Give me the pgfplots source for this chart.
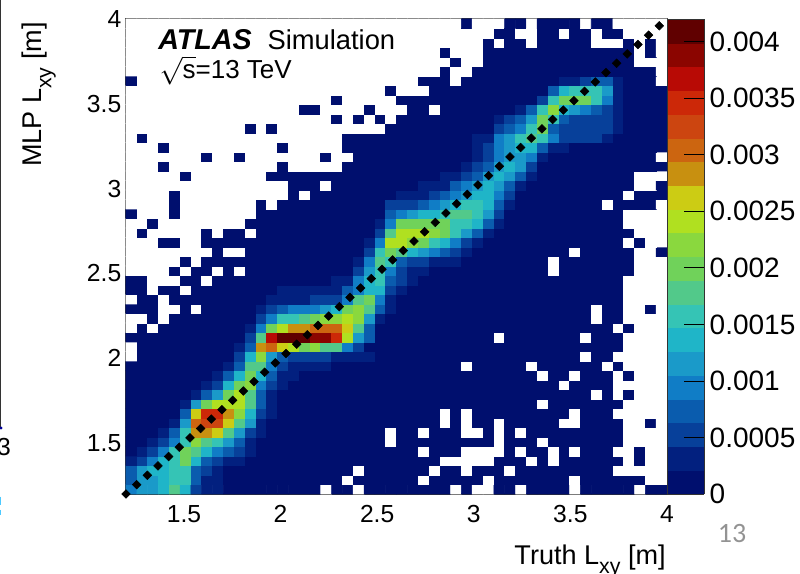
\documentclass[border=0pt]{standalone}
\usepackage{fontspec}
\setmainfont{Liberation Sans}
\newfontfamily\slidefont{Carlito}
\usepackage{pgfplots}
\pgfplotsset{compat=1.18}
\definecolor{framec}{HTML}{333333}
\newcommand{\sub}[1]{\raisebox{-7pt}{\fontsize{16}{17}\selectfont #1}}
\begin{document}
\begin{tikzpicture}
\useasboundingbox (-94.5pt,-60pt) rectangle (505.5pt,370.5pt);
\begin{axis}[
  at={(0,0)}, anchor=south west, scale only axis,
  width=405.75pt, height=356.25pt,
  xmin=1.2, xmax=4, ymin=1.2, ymax=4,
  xtick={1.5,2,2.5,3,3.5,4}, ytick={1.5,2,2.5,3,3.5,4},
  minor x tick num=4, minor y tick num=4,
  xticklabels={1.5,2,2.5,3,3.5,4},
  yticklabels={1.5,2,2.5,3,3.5,4},
  tick align=inside, ticks=both,
  axis line style={framec,line width=0.9pt},
  xtick style={framec,line width=0.6pt,/pgfplots/major tick length=8.25pt,/pgfplots/minor tick length=4pt},
  ytick style={framec,line width=0.6pt,/pgfplots/major tick length=13.5pt,/pgfplots/minor tick length=6.75pt},
  tick label style={font=\fontsize{18.5}{20}\selectfont,/pgf/number format/assume math mode=true},
  xticklabel shift=5pt,
  clip=false,
  xlabel={Truth L\sub{xy} [m]},
  ylabel={MLP L\sub{xy} [m]},
  every axis x label/.style={at={(axis description cs:0.998,-0.1474)},anchor=base east,inner sep=0pt,font=\fontsize{20.3}{22}\selectfont},
  every axis y label/.style={at={(axis description cs:-0.1553,0.9937)},rotate=90,anchor=base east,inner sep=0pt,font=\fontsize{20.3}{22}\selectfont},
  colormap access=piecewise constant,
  colormap={atlas}{
    rgb255=(255,255,255)
    rgb255=(0,15,110) rgb255=(2,32,127) rgb255=(7,64,154) rgb255=(10,92,174)
    rgb255=(16,125,198) rgb255=(26,154,201) rgb255=(31,181,200) rgb255=(53,196,181)
    rgb255=(82,201,138) rgb255=(112,210,90) rgb255=(138,216,62) rgb255=(176,224,32)
    rgb255=(204,204,20) rgb255=(200,144,16) rgb255=(204,101,16) rgb255=(204,69,16)
    rgb255=(204,40,8) rgb255=(184,10,5) rgb255=(139,5,0) rgb255=(96,0,0)},
  point meta min=-0.00021, point meta max=0.0042,
  colorbar, colorbar sampled,
  colorbar style={
    at={(1,0)}, anchor=south west, xshift=2.25pt,
    width=27.75pt, height=356.25pt, samples=22,
    ymin=0, ymax=0.0042, clip=true, scaled y ticks=false,
    ytick={0,0.0005,0.001,0.0015,0.002,0.0025,0.003,0.0035,0.004},
    yticklabels={0,0.0005,0.001,0.0015,0.002,0.0025,0.003,0.0035,0.004},
    ytick pos=right, yticklabel pos=right,
    tick align=inside, major tick length=15pt,
    ytick style={black,line width=0.6pt,/pgfplots/major tick length=15pt},
    axis line style={framec,line width=0.4pt},
    yticklabel style={font=\fontsize{21}{23}\selectfont,xshift=0.75pt},
  },
]
% cell values: colour level 0-19 of a bin (one level = 0.00021), -1 = empty bin; rows run bottom to top, 50 x 50 bins
\addplot[matrix plot*, mesh/cols=50, point meta=explicit]
  table[row sep=\\, header=false,
        x expr={1.228+0.056*mod(\coordindex,50)},
        y expr={1.228+0.056*floor((\coordindex+0.5)/50)},
        meta expr={(\thisrowno{0}+0.5)*0.00021}] {
4\\5\\5\\6\\8\\6\\2\\1\\1\\0\\0\\0\\0\\0\\0\\0\\0\\0\\-1\\0\\0\\-1\\0\\0\\0\\0\\0\\0\\0\\0\\-1\\0\\-1\\-1\\0\\0\\-1\\0\\0\\0\\0\\-1\\0\\0\\0\\0\\0\\-1\\0\\0\\
3\\5\\5\\6\\7\\7\\3\\1\\1\\0\\0\\0\\0\\0\\0\\0\\0\\0\\0\\0\\-1\\0\\0\\0\\0\\0\\0\\-1\\0\\0\\0\\0\\0\\-1\\0\\0\\0\\0\\0\\0\\0\\-1\\0\\0\\0\\0\\0\\0\\-1\\-1\\
3\\5\\6\\6\\7\\7\\3\\2\\1\\0\\0\\0\\0\\0\\0\\0\\0\\0\\0\\0\\0\\-1\\0\\0\\0\\0\\0\\0\\-1\\0\\0\\-1\\0\\0\\0\\-1\\0\\0\\0\\0\\0\\0\\0\\0\\0\\-1\\-1\\-1\\-1\\-1\\
1\\2\\4\\6\\7\\9\\6\\3\\2\\1\\1\\0\\0\\0\\0\\0\\0\\0\\0\\0\\0\\0\\0\\0\\0\\0\\0\\0\\0\\-1\\-1\\-1\\-1\\-1\\0\\0\\0\\-1\\0\\-1\\0\\0\\0\\0\\0\\0\\-1\\0\\-1\\-1\\
0\\1\\2\\4\\7\\9\\8\\6\\4\\3\\2\\1\\0\\0\\0\\0\\0\\0\\0\\0\\0\\0\\0\\0\\0\\0\\0\\-1\\0\\0\\0\\-1\\-1\\-1\\-1\\0\\-1\\0\\0\\-1\\0\\-1\\0\\0\\0\\-1\\-1\\0\\-1\\-1\\
0\\0\\1\\2\\4\\7\\10\\8\\7\\5\\3\\1\\0\\0\\0\\0\\0\\0\\0\\0\\0\\0\\0\\0\\-1\\0\\0\\0\\0\\0\\0\\0\\0\\0\\-1\\0\\0\\0\\-1\\0\\0\\0\\0\\0\\0\\0\\-1\\-1\\-1\\-1\\
0\\0\\0\\1\\3\\7\\13\\13\\12\\8\\5\\2\\1\\0\\0\\0\\0\\0\\0\\0\\0\\0\\0\\0\\-1\\0\\0\\-1\\0\\0\\0\\-1\\-1\\0\\-1\\0\\-1\\0\\0\\0\\0\\0\\0\\0\\0\\0\\-1\\-1\\-1\\-1\\
0\\0\\0\\0\\1\\5\\14\\15\\15\\12\\8\\5\\1\\0\\0\\0\\0\\0\\0\\0\\0\\0\\0\\0\\0\\0\\0\\0\\0\\-1\\0\\-1\\0\\0\\-1\\0\\0\\0\\0\\0\\-1\\-1\\0\\0\\0\\0\\-1\\-1\\0\\-1\\
0\\0\\0\\0\\0\\3\\12\\16\\16\\13\\10\\6\\2\\1\\0\\0\\0\\0\\0\\0\\0\\0\\0\\0\\0\\0\\0\\0\\0\\-1\\0\\-1\\0\\0\\0\\0\\0\\0\\0\\0\\0\\-1\\0\\0\\0\\-1\\-1\\-1\\-1\\-1\\
0\\0\\0\\0\\0\\1\\5\\9\\11\\11\\11\\8\\3\\1\\0\\0\\0\\0\\0\\0\\0\\0\\0\\0\\0\\0\\0\\0\\0\\0\\0\\0\\0\\0\\0\\0\\0\\0\\-1\\0\\0\\0\\0\\0\\0\\0\\-1\\-1\\-1\\-1\\
0\\0\\0\\0\\0\\0\\1\\3\\5\\9\\11\\8\\3\\1\\0\\0\\0\\0\\0\\0\\0\\0\\0\\0\\0\\0\\0\\0\\0\\0\\0\\0\\0\\0\\0\\0\\0\\0\\0\\0\\0\\0\\0\\-1\\0\\-1\\0\\-1\\-1\\-1\\
0\\0\\0\\0\\0\\0\\0\\1\\2\\6\\9\\10\\4\\2\\1\\0\\0\\0\\0\\0\\0\\0\\0\\0\\0\\0\\0\\0\\0\\0\\0\\0\\0\\0\\0\\0\\0\\0\\0\\0\\-1\\0\\0\\0\\0\\-1\\-1\\-1\\-1\\-1\\
0\\0\\0\\0\\0\\0\\0\\0\\1\\3\\6\\9\\6\\3\\1\\1\\0\\0\\0\\0\\0\\0\\0\\0\\0\\0\\0\\0\\0\\0\\0\\0\\0\\0\\0\\0\\0\\0\\-1\\0\\0\\-1\\0\\0\\0\\-1\\0\\-1\\-1\\-1\\
0\\0\\0\\0\\0\\0\\0\\0\\0\\1\\3\\8\\8\\4\\2\\1\\1\\1\\1\\0\\0\\0\\0\\0\\0\\0\\0\\0\\0\\0\\0\\-1\\0\\0\\0\\0\\0\\-1\\0\\0\\0\\0\\0\\0\\-1\\0\\-1\\-1\\-1\\-1\\
-1\\0\\0\\0\\0\\0\\0\\0\\0\\0\\2\\6\\10\\5\\3\\2\\2\\2\\2\\1\\1\\1\\1\\0\\0\\0\\0\\0\\0\\0\\0\\0\\0\\0\\0\\0\\0\\0\\0\\0\\0\\0\\-1\\0\\0\\-1\\-1\\-1\\-1\\-1\\
-1\\0\\0\\0\\0\\0\\0\\0\\0\\0\\1\\3\\13\\14\\12\\11\\9\\10\\8\\8\\4\\2\\0\\0\\0\\0\\0\\0\\0\\0\\0\\0\\0\\0\\0\\0\\0\\0\\0\\0\\0\\0\\0\\0\\0\\0\\-1\\-1\\-1\\-1\\
0\\0\\0\\0\\0\\0\\0\\0\\0\\0\\0\\2\\8\\17\\19\\19\\19\\18\\18\\16\\11\\5\\3\\0\\0\\0\\0\\0\\0\\0\\0\\0\\0\\0\\-1\\0\\0\\0\\0\\0\\0\\0\\-1\\0\\0\\0\\-1\\-1\\-1\\-1\\
-1\\0\\-1\\0\\0\\0\\0\\0\\0\\0\\0\\1\\4\\9\\11\\13\\13\\14\\14\\14\\12\\8\\3\\0\\0\\0\\0\\0\\0\\0\\0\\0\\0\\0\\0\\0\\0\\0\\0\\0\\0\\0\\0\\0\\0\\-1\\0\\-1\\-1\\-1\\
-1\\-1\\0\\-1\\0\\0\\0\\0\\0\\0\\0\\0\\2\\4\\7\\7\\8\\9\\10\\10\\11\\10\\5\\1\\0\\0\\0\\0\\0\\0\\0\\0\\0\\0\\0\\0\\0\\0\\0\\0\\0\\0\\0\\-1\\0\\0\\-1\\-1\\-1\\-1\\
0\\0\\0\\-1\\-1\\0\\-1\\0\\0\\0\\0\\0\\1\\2\\3\\4\\4\\4\\5\\6\\9\\10\\8\\3\\1\\0\\0\\0\\0\\0\\0\\0\\0\\0\\0\\0\\0\\0\\0\\0\\0\\0\\0\\-1\\0\\0\\-1\\-1\\0\\-1\\
-1\\0\\0\\-1\\0\\0\\0\\0\\0\\0\\0\\0\\0\\1\\1\\1\\1\\2\\2\\2\\4\\8\\9\\4\\1\\0\\0\\0\\0\\0\\0\\0\\0\\0\\0\\0\\0\\0\\0\\0\\0\\0\\0\\0\\0\\0\\-1\\-1\\-1\\-1\\
0\\0\\-1\\0\\0\\-1\\0\\0\\0\\0\\0\\0\\0\\0\\1\\1\\1\\1\\1\\1\\3\\4\\6\\6\\2\\1\\0\\0\\0\\0\\0\\0\\0\\0\\0\\0\\0\\0\\0\\0\\0\\0\\0\\0\\0\\0\\-1\\-1\\-1\\-1\\
0\\0\\-1\\-1\\-1\\0\\0\\-1\\0\\0\\0\\0\\0\\0\\0\\0\\0\\0\\0\\1\\1\\4\\6\\7\\3\\2\\1\\0\\0\\0\\0\\0\\0\\0\\0\\0\\0\\0\\0\\0\\0\\0\\0\\0\\0\\0\\-1\\-1\\-1\\-1\\
-1\\-1\\-1\\-1\\0\\-1\\0\\0\\-1\\0\\-1\\0\\0\\0\\0\\0\\0\\0\\0\\0\\0\\2\\5\\7\\4\\2\\1\\1\\0\\0\\0\\0\\0\\0\\0\\0\\0\\0\\0\\-1\\0\\0\\0\\0\\0\\0\\0\\-1\\-1\\-1\\
-1\\-1\\-1\\-1\\-1\\0\\-1\\0\\0\\0\\0\\0\\0\\0\\0\\0\\0\\0\\0\\0\\0\\1\\4\\8\\7\\3\\2\\2\\1\\1\\1\\0\\0\\0\\0\\0\\0\\0\\0\\-1\\0\\0\\0\\0\\0\\0\\0\\-1\\-1\\-1\\
-1\\-1\\-1\\-1\\-1\\-1\\-1\\-1\\0\\-1\\-1\\0\\0\\0\\0\\0\\0\\0\\0\\0\\0\\0\\2\\7\\9\\8\\6\\5\\4\\3\\2\\1\\0\\0\\0\\0\\0\\0\\0\\0\\0\\-1\\0\\0\\0\\0\\0\\-1\\-1\\0\\
-1\\-1\\-1\\0\\0\\-1\\-1\\0\\0\\0\\0\\0\\0\\0\\0\\0\\0\\0\\0\\0\\0\\0\\1\\4\\11\\11\\10\\9\\7\\6\\4\\2\\1\\0\\0\\0\\0\\0\\0\\0\\0\\0\\0\\0\\0\\0\\-1\\0\\-1\\-1\\
-1\\0\\-1\\-1\\-1\\-1\\-1\\0\\-1\\0\\0\\-1\\0\\0\\0\\0\\0\\0\\0\\0\\0\\0\\0\\2\\8\\11\\11\\11\\10\\9\\7\\5\\3\\1\\0\\0\\0\\0\\0\\0\\0\\0\\0\\0\\0\\0\\0\\-1\\-1\\-1\\
-1\\-1\\0\\-1\\-1\\-1\\-1\\-1\\-1\\-1\\-1\\0\\0\\0\\0\\0\\0\\0\\0\\0\\0\\0\\0\\1\\4\\9\\9\\9\\9\\9\\7\\7\\6\\3\\1\\0\\0\\0\\0\\0\\0\\0\\0\\0\\0\\0\\-1\\-1\\-1\\-1\\
0\\-1\\-1\\-1\\0\\-1\\-1\\-1\\-1\\-1\\-1\\-1\\0\\0\\0\\0\\0\\0\\0\\0\\0\\0\\0\\0\\3\\4\\5\\6\\6\\7\\8\\8\\7\\5\\2\\0\\0\\0\\0\\0\\0\\0\\0\\0\\0\\0\\-1\\-1\\-1\\-1\\
-1\\-1\\-1\\-1\\0\\-1\\-1\\-1\\-1\\-1\\-1\\-1\\0\\-1\\0\\0\\0\\0\\0\\0\\0\\0\\0\\0\\2\\2\\2\\3\\4\\5\\6\\7\\7\\6\\3\\1\\0\\0\\0\\0\\0\\0\\0\\0\\-1\\0\\0\\0\\0\\-1\\
-1\\-1\\-1\\-1\\0\\-1\\-1\\-1\\-1\\-1\\-1\\-1\\-1\\-1\\-1\\0\\-1\\0\\0\\0\\0\\0\\0\\0\\0\\1\\1\\1\\2\\3\\4\\5\\6\\6\\4\\2\\0\\0\\0\\0\\0\\0\\0\\0\\0\\0\\-1\\0\\0\\0\\
-1\\-1\\-1\\-1\\-1\\-1\\-1\\-1\\-1\\-1\\-1\\-1\\-1\\-1\\-1\\0\\0\\0\\-1\\0\\0\\0\\0\\0\\0\\0\\0\\1\\1\\1\\3\\4\\5\\6\\5\\3\\1\\0\\0\\0\\0\\0\\0\\0\\0\\0\\0\\-1\\-1\\0\\
-1\\-1\\-1\\-1\\-1\\0\\-1\\-1\\-1\\-1\\-1\\-1\\-1\\0\\0\\0\\0\\0\\0\\0\\0\\0\\0\\0\\0\\0\\0\\0\\0\\1\\1\\2\\3\\5\\6\\5\\3\\1\\0\\0\\0\\0\\0\\0\\0\\0\\0\\-1\\-1\\-1\\
-1\\-1\\-1\\0\\-1\\-1\\-1\\-1\\-1\\-1\\-1\\-1\\-1\\-1\\0\\-1\\-1\\-1\\-1\\-1\\0\\0\\0\\0\\0\\0\\0\\0\\0\\0\\0\\1\\2\\3\\5\\6\\5\\2\\0\\0\\0\\0\\0\\0\\0\\0\\0\\0\\0\\0\\
-1\\-1\\-1\\-1\\-1\\-1\\-1\\0\\-1\\-1\\0\\-1\\-1\\-1\\-1\\-1\\-1\\-1\\0\\-1\\-1\\0\\0\\0\\0\\0\\0\\0\\0\\0\\0\\0\\1\\2\\4\\5\\5\\4\\1\\0\\0\\0\\0\\0\\0\\0\\0\\0\\0\\-1\\
-1\\-1\\-1\\0\\-1\\-1\\-1\\-1\\-1\\-1\\-1\\-1\\-1\\-1\\0\\-1\\-1\\-1\\-1\\-1\\0\\0\\0\\0\\0\\0\\0\\0\\0\\0\\0\\0\\1\\2\\4\\5\\6\\6\\3\\1\\1\\0\\0\\0\\0\\0\\0\\0\\0\\0\\
-1\\0\\-1\\-1\\-1\\-1\\-1\\-1\\-1\\-1\\-1\\-1\\-1\\-1\\-1\\-1\\-1\\-1\\-1\\-1\\0\\0\\0\\0\\0\\0\\0\\0\\0\\0\\0\\0\\1\\1\\4\\5\\7\\8\\7\\4\\2\\2\\2\\2\\1\\0\\0\\0\\0\\0\\
-1\\-1\\-1\\-1\\-1\\-1\\-1\\-1\\-1\\-1\\-1\\0\\-1\\0\\-1\\-1\\-1\\-1\\-1\\-1\\-1\\-1\\-1\\-1\\0\\0\\0\\0\\0\\0\\0\\0\\0\\0\\2\\3\\4\\7\\9\\3\\2\\2\\2\\2\\2\\1\\0\\0\\0\\0\\
-1\\-1\\-1\\-1\\-1\\-1\\-1\\-1\\-1\\-1\\-1\\-1\\-1\\-1\\-1\\-1\\-1\\-1\\-1\\0\\-1\\0\\-1\\0\\-1\\0\\0\\0\\0\\0\\0\\0\\0\\0\\1\\2\\3\\5\\9\\7\\3\\2\\2\\2\\2\\1\\0\\0\\0\\0\\
-1\\-1\\-1\\-1\\-1\\-1\\-1\\-1\\-1\\-1\\-1\\-1\\-1\\-1\\-1\\-1\\0\\0\\-1\\-1\\-1\\-1\\0\\-1\\-1\\-1\\0\\0\\-1\\0\\0\\0\\0\\0\\0\\0\\1\\3\\7\\10\\6\\5\\4\\3\\2\\1\\0\\0\\0\\0\\
-1\\-1\\-1\\-1\\-1\\-1\\-1\\-1\\-1\\-1\\-1\\-1\\-1\\-1\\-1\\-1\\-1\\-1\\-1\\0\\-1\\-1\\-1\\-1\\-1\\0\\0\\0\\0\\0\\0\\0\\0\\0\\0\\0\\0\\0\\2\\7\\9\\9\\9\\7\\4\\1\\0\\0\\0\\0\\
-1\\-1\\-1\\-1\\-1\\-1\\-1\\-1\\-1\\-1\\-1\\-1\\-1\\-1\\-1\\-1\\-1\\-1\\-1\\-1\\-1\\-1\\-1\\-1\\0\\-1\\-1\\-1\\0\\0\\0\\0\\0\\0\\0\\0\\0\\0\\0\\3\\6\\7\\7\\7\\5\\1\\0\\0\\0\\0\\
0\\-1\\-1\\-1\\-1\\-1\\-1\\-1\\-1\\-1\\-1\\-1\\-1\\-1\\-1\\-1\\-1\\-1\\-1\\-1\\-1\\-1\\-1\\-1\\-1\\-1\\-1\\0\\0\\0\\-1\\0\\0\\0\\0\\0\\0\\0\\0\\0\\1\\1\\2\\3\\3\\1\\0\\0\\0\\-1\\
-1\\-1\\-1\\-1\\-1\\-1\\-1\\-1\\-1\\-1\\-1\\-1\\-1\\-1\\-1\\-1\\-1\\-1\\-1\\-1\\-1\\-1\\-1\\-1\\-1\\-1\\-1\\-1\\-1\\0\\-1\\-1\\0\\0\\0\\0\\0\\0\\0\\0\\0\\0\\0\\0\\0\\0\\0\\0\\0\\-1\\
-1\\-1\\-1\\-1\\-1\\-1\\-1\\-1\\-1\\-1\\-1\\-1\\-1\\-1\\-1\\-1\\-1\\-1\\-1\\-1\\-1\\-1\\-1\\-1\\-1\\-1\\-1\\-1\\-1\\-1\\0\\-1\\-1\\0\\0\\0\\0\\0\\0\\0\\0\\0\\0\\0\\0\\0\\0\\-1\\-1\\-1\\
-1\\-1\\-1\\-1\\-1\\-1\\-1\\-1\\-1\\-1\\-1\\-1\\-1\\-1\\-1\\-1\\-1\\-1\\-1\\-1\\-1\\-1\\-1\\-1\\-1\\-1\\-1\\-1\\-1\\0\\-1\\-1\\-1\\0\\0\\0\\0\\0\\0\\0\\0\\0\\0\\0\\0\\0\\0\\-1\\0\\-1\\
-1\\-1\\-1\\-1\\-1\\-1\\-1\\-1\\-1\\-1\\-1\\-1\\-1\\-1\\-1\\-1\\-1\\-1\\-1\\-1\\-1\\-1\\-1\\-1\\-1\\-1\\-1\\-1\\-1\\-1\\-1\\-1\\-1\\0\\-1\\0\\0\\-1\\0\\0\\0\\0\\0\\-1\\-1\\-1\\0\\-1\\0\\-1\\
-1\\-1\\-1\\-1\\-1\\-1\\-1\\-1\\-1\\-1\\-1\\-1\\-1\\-1\\-1\\-1\\-1\\-1\\-1\\-1\\-1\\-1\\-1\\-1\\-1\\-1\\-1\\-1\\-1\\-1\\-1\\-1\\-1\\-1\\0\\0\\-1\\-1\\0\\0\\-1\\0\\0\\-1\\0\\0\\-1\\-1\\-1\\-1\\
-1\\-1\\-1\\-1\\-1\\-1\\-1\\-1\\-1\\-1\\-1\\-1\\-1\\-1\\-1\\-1\\-1\\-1\\-1\\-1\\-1\\-1\\-1\\-1\\-1\\-1\\-1\\-1\\-1\\-1\\-1\\0\\-1\\-1\\-1\\0\\0\\-1\\0\\0\\0\\0\\-1\\0\\0\\-1\\-1\\-1\\-1\\-1\\
};
\addplot[only marks, mark=square*, mark size=2.3pt, mark options={rotate=45,black}, black] coordinates {
(1.2,1.2)(1.2552,1.2552)(1.3104,1.3104)(1.3656,1.3656)(1.4208,1.4208)(1.476,1.476)(1.5312,1.5312)(1.5864,1.5864)(1.6416,1.6416)(1.6968,1.6968)
(1.752,1.752)(1.8072,1.8072)(1.8624,1.8624)(1.9176,1.9176)(1.9728,1.9728)(2.028,2.028)(2.0832,2.0832)(2.1384,2.1384)(2.1936,2.1936)(2.2488,2.2488)
(2.304,2.304)(2.3592,2.3592)(2.4144,2.4144)(2.4696,2.4696)(2.5248,2.5248)(2.58,2.58)(2.6352,2.6352)(2.6904,2.6904)(2.7456,2.7456)(2.8008,2.8008)
(2.856,2.856)(2.9112,2.9112)(2.9664,2.9664)(3.0216,3.0216)(3.0768,3.0768)(3.132,3.132)(3.1872,3.1872)(3.2424,3.2424)(3.2976,3.2976)(3.3528,3.3528)
(3.408,3.408)(3.4632,3.4632)(3.5184,3.5184)(3.5736,3.5736)(3.6288,3.6288)(3.684,3.684)(3.7392,3.7392)(3.7944,3.7944)(3.8496,3.8496)(3.9048,3.9048)(3.96,3.96)};
\end{axis}
\node[anchor=base west,inner sep=0pt,font=\fontsize{21.5}{23}\selectfont\bfseries\itshape] at (24pt,333.5pt) {ATLAS};
\node[anchor=base west,inner sep=0pt,font=\fontsize{20.5}{22}\selectfont] at (106pt,333.5pt) {Simulation};
\node[anchor=base west,inner sep=0pt,font=\fontsize{19.5}{21}\selectfont] at (25pt,311.5pt) {$\sqrt{\mbox{s}}$=13 TeV};
\node[inner sep=0pt,text=gray!85,font=\fontsize{21}{23}\slidefont] at (454.5pt,-30pt) {13};
\node[inner sep=0pt,font=\fontsize{18.5}{20}\selectfont] at (-91.5pt,35pt) {3};
\draw[framec,line width=1.4pt] (-94.3pt,370.5pt) -- (-94.3pt,49.5pt);
\fill[blue!60!black] (-93.8pt,49.5pt) circle (1.2pt);
\draw[blue!30!cyan!70!white,line width=0.5pt] (-94.3pt,-2pt) -- (-94.3pt,-8pt);
\draw[blue!30!cyan!70!white,line width=0.5pt] (-94.3pt,-12pt) -- (-94.3pt,-16pt);
\end{tikzpicture}
\end{document}
